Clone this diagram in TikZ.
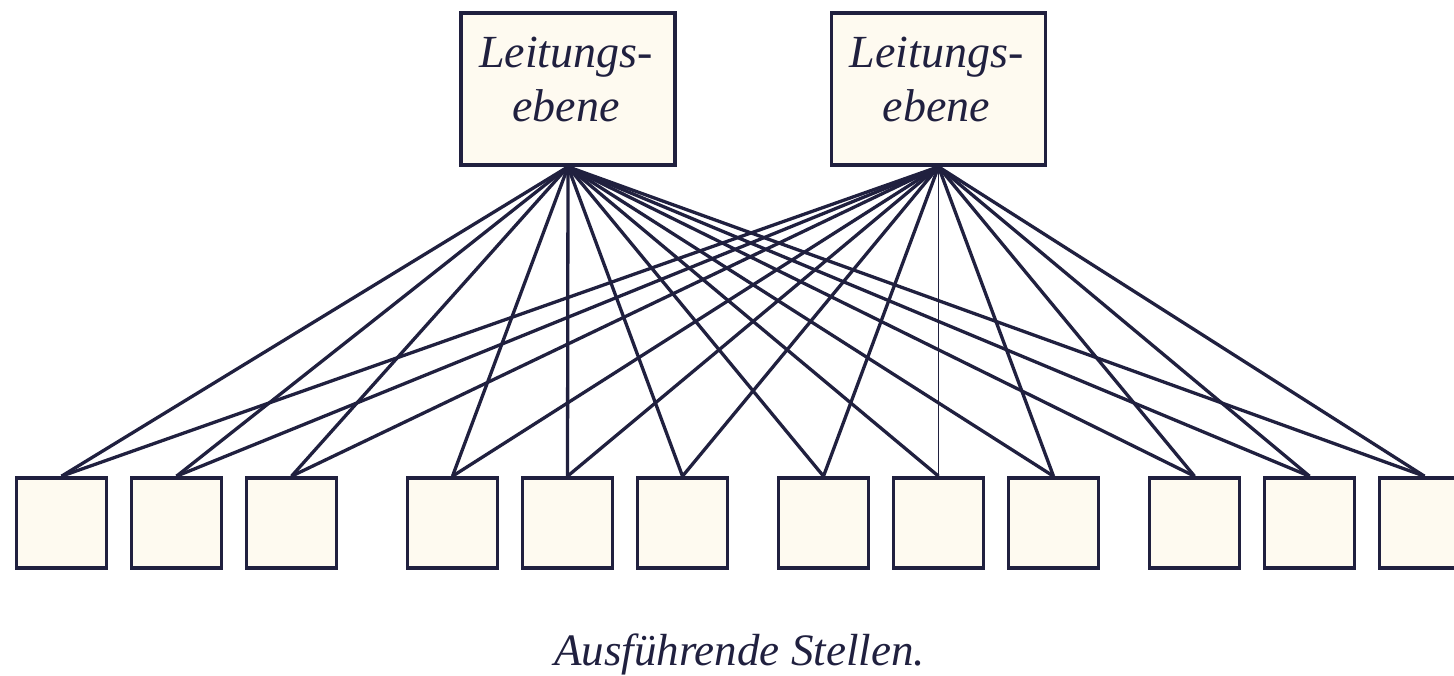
\documentclass[tikz,border=0pt]{standalone}
\usepackage{fontspec}
\setmainfont{Liberation Serif}
\usetikzlibrary{backgrounds}
\definecolor{ink}{HTML}{20203F}
\definecolor{paper}{HTML}{FEFAF0}
\begin{document}
\begin{tikzpicture}[x=1pt,y=-1pt,
  box/.style={draw=ink, fill=paper, line width=3.6pt, inner sep=0pt},
  head/.style={box, minimum width=214pt, minimum height=152pt},
  unit/.style={box, minimum width=90pt, minimum height=90pt},
  ttl/.style={font=\fontsize{46}{54}\selectfont\itshape, text=ink, inner sep=0pt, anchor=base},
  link/.style={draw=ink, line width=3.3pt},
  thin link/.style={draw=ink, line width=1.3pt}]
\useasboundingbox (0,0) rectangle (1454,676);

% management level
\node[head] (h1) at (568,89) {};
\node[head] (h2) at (938.5,89) {};
\node[ttl] (h1a) at (566,68) {Leitungs-};
\node[ttl] (h1b) at (566,122) {ebene};
\node[ttl] (h2a) at (936.5,68) {Leitungs-};
\node[ttl] (h2b) at (936.5,122) {ebene};

% executing units
\foreach \i/\x in {1/61.5, 2/176.5, 3/291.5, 4/452.5, 5/567.5, 6/682.5,
                   7/823.5, 8/938.5, 9/1053.5, 10/1194.5, 11/1309.5, 12/1424.5}
  \node[unit] (u\i) at (\x,523) {};

% every unit reports to both heads
\begin{scope}[on background layer]
  \foreach \i in {1,...,12} {
    \draw[link] (h1.south) -- (u\i.north);
  }
  \foreach \i in {1,...,7,9,10,11,12} {
    \draw[link] (h2.south) -- (u\i.north);
  }
  \draw[thin link] (h2.south) -- (u8.north);
\end{scope}

\node[ttl, font=\fontsize{45}{54}\selectfont\itshape] (cap) at (739.5,665) {Ausführende Stellen.};
\end{tikzpicture}
\end{document}
